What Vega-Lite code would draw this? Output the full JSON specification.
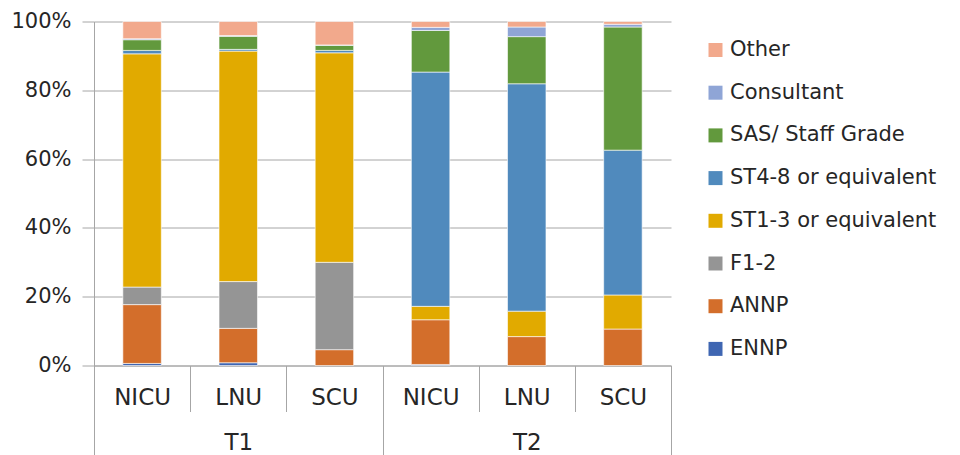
{
  "$schema": "https://vega.github.io/schema/vega-lite/v6.json",
  "width": 577,
  "height": 344,
  "autosize": "none",
  "padding": {"left": 94, "top": 21.5, "right": 289, "bottom": 89.5},
  "background": "white",
  "config": {
    "font": "DejaVu Sans",
    "view": {"stroke": null}
  },
  "datasets": {
    "staffing": [
      {"period": "T1", "unit": "NICU", "role": "ENNP", "pct": 0.6},
      {"period": "T1", "unit": "NICU", "role": "ANNP", "pct": 17.1},
      {"period": "T1", "unit": "NICU", "role": "F1-2", "pct": 5.1},
      {"period": "T1", "unit": "NICU", "role": "ST1-3 or equivalent", "pct": 67.8},
      {"period": "T1", "unit": "NICU", "role": "ST4-8 or equivalent", "pct": 1.0},
      {"period": "T1", "unit": "NICU", "role": "SAS/ Staff Grade", "pct": 3.1},
      {"period": "T1", "unit": "NICU", "role": "Consultant", "pct": 0.3},
      {"period": "T1", "unit": "NICU", "role": "Other", "pct": 5.0},
      {"period": "T1", "unit": "LNU", "role": "ENNP", "pct": 0.8},
      {"period": "T1", "unit": "LNU", "role": "ANNP", "pct": 10.0},
      {"period": "T1", "unit": "LNU", "role": "F1-2", "pct": 13.6},
      {"period": "T1", "unit": "LNU", "role": "ST1-3 or equivalent", "pct": 67.0},
      {"period": "T1", "unit": "LNU", "role": "ST4-8 or equivalent", "pct": 0.5},
      {"period": "T1", "unit": "LNU", "role": "SAS/ Staff Grade", "pct": 3.8},
      {"period": "T1", "unit": "LNU", "role": "Consultant", "pct": 0.2},
      {"period": "T1", "unit": "LNU", "role": "Other", "pct": 4.1},
      {"period": "T1", "unit": "SCU", "role": "ANNP", "pct": 4.6},
      {"period": "T1", "unit": "SCU", "role": "F1-2", "pct": 25.4},
      {"period": "T1", "unit": "SCU", "role": "ST1-3 or equivalent", "pct": 60.9},
      {"period": "T1", "unit": "SCU", "role": "ST4-8 or equivalent", "pct": 0.7},
      {"period": "T1", "unit": "SCU", "role": "SAS/ Staff Grade", "pct": 1.5},
      {"period": "T1", "unit": "SCU", "role": "Consultant", "pct": 0.1},
      {"period": "T1", "unit": "SCU", "role": "Other", "pct": 6.8},
      {"period": "T2", "unit": "NICU", "role": "ENNP", "pct": 0.3},
      {"period": "T2", "unit": "NICU", "role": "ANNP", "pct": 13.0},
      {"period": "T2", "unit": "NICU", "role": "ST1-3 or equivalent", "pct": 3.9},
      {"period": "T2", "unit": "NICU", "role": "ST4-8 or equivalent", "pct": 68.1},
      {"period": "T2", "unit": "NICU", "role": "SAS/ Staff Grade", "pct": 12.1},
      {"period": "T2", "unit": "NICU", "role": "Consultant", "pct": 0.9},
      {"period": "T2", "unit": "NICU", "role": "Other", "pct": 1.7},
      {"period": "T2", "unit": "LNU", "role": "ANNP", "pct": 8.4},
      {"period": "T2", "unit": "LNU", "role": "ST1-3 or equivalent", "pct": 7.4},
      {"period": "T2", "unit": "LNU", "role": "ST4-8 or equivalent", "pct": 66.1},
      {"period": "T2", "unit": "LNU", "role": "SAS/ Staff Grade", "pct": 13.7},
      {"period": "T2", "unit": "LNU", "role": "Consultant", "pct": 2.8},
      {"period": "T2", "unit": "LNU", "role": "Other", "pct": 1.6},
      {"period": "T2", "unit": "SCU", "role": "ANNP", "pct": 10.6},
      {"period": "T2", "unit": "SCU", "role": "ST1-3 or equivalent", "pct": 9.9},
      {"period": "T2", "unit": "SCU", "role": "ST4-8 or equivalent", "pct": 42.1},
      {"period": "T2", "unit": "SCU", "role": "SAS/ Staff Grade", "pct": 35.8},
      {"period": "T2", "unit": "SCU", "role": "Consultant", "pct": 0.8},
      {"period": "T2", "unit": "SCU", "role": "Other", "pct": 0.8}
    ],
    "periods": [
      {"period": "T1"},
      {"period": "T2"}
    ]
  },
  "layer": [
    {
      "data": {"name": "periods"},
      "mark": {"type": "bar", "opacity": 0},
      "encoding": {
        "x": {
          "field": "period",
          "type": "nominal",
          "sort": null,
          "scale": {"paddingInner": 0, "paddingOuter": 0},
          "axis": {
            "orient": "bottom",
            "title": null,
            "domain": false,
            "labelAngle": 0,
            "tickBand": "extent",
            "tickSize": 89,
            "tickColor": "#a6a6a6",
            "tickWidth": 1,
            "labelFontSize": 23,
            "labelColor": "#262626",
            "labelBaseline": "alphabetic",
            "labelPadding": -5
          }
        }
      }
    },
    {
      "data": {"name": "staffing"},
      "transform": [
        {"calculate": "datum.period + '|' + datum.unit", "as": "key"},
        {"calculate": "indexof(['ENNP', 'ANNP', 'F1-2', 'ST1-3 or equivalent', 'ST4-8 or equivalent', 'SAS/ Staff Grade', 'Consultant', 'Other'], datum.role)", "as": "stackRank"}
      ],
      "mark": {"type": "bar", "width": {"band": 0.4}, "stroke": "white", "strokeWidth": 0.6},
      "encoding": {
        "x": {
          "field": "key",
          "type": "nominal",
          "sort": null,
          "scale": {"paddingInner": 0, "paddingOuter": 0},
          "axis": {
            "orient": "bottom",
            "title": null,
            "labelExpr": "split(datum.value, '|')[1]",
            "labelAngle": 0,
            "tickBand": "extent",
            "tickSize": 46,
            "tickColor": "#a6a6a6",
            "tickWidth": 1,
            "domainColor": "#a6a6a6",
            "domainWidth": 1,
            "labelFontSize": 23,
            "labelColor": "#262626",
            "labelBaseline": "alphabetic",
            "labelPadding": -7
          }
        },
        "y": {
          "field": "pct",
          "type": "quantitative",
          "stack": "normalize",
          "scale": {"domain": [0, 1], "nice": false},
          "axis": {
            "title": null,
            "values": [0, 0.2, 0.4, 0.6, 0.8, 1],
            "format": ".0%",
            "grid": true,
            "gridColor": "#a6a6a6",
            "gridWidth": 1,
            "domainColor": "#a6a6a6",
            "tickColor": "#a6a6a6",
            "tickSize": 12,
            "labelPadding": 11,
            "labelFontSize": 21,
            "labelColor": "#262626"
          }
        },
        "color": {
          "field": "role",
          "type": "nominal",
          "scale": {
            "domain": ["Other", "Consultant", "SAS/ Staff Grade", "ST4-8 or equivalent", "ST1-3 or equivalent", "F1-2", "ANNP", "ENNP"],
            "range": ["#F2A98C", "#8FA5D6", "#62993D", "#508ABD", "#E1AA00", "#959595", "#D36E2B", "#3F66B2"]
          },
          "legend": {
            "title": null,
            "orient": "none",
            "legendX": 611,
            "legendY": 18,
            "symbolType": "square",
            "symbolSize": 196,
            "symbolStrokeWidth": 0,
            "labelFontSize": 21,
            "labelColor": "#262626",
            "labelOffset": 4,
            "labelLimit": 320,
            "rowPadding": 20.7
          }
        },
        "order": {"field": "stackRank", "type": "quantitative"}
      }
    }
  ],
  "resolve": {"scale": {"x": "independent"}, "axis": {"x": "independent"}}
}
